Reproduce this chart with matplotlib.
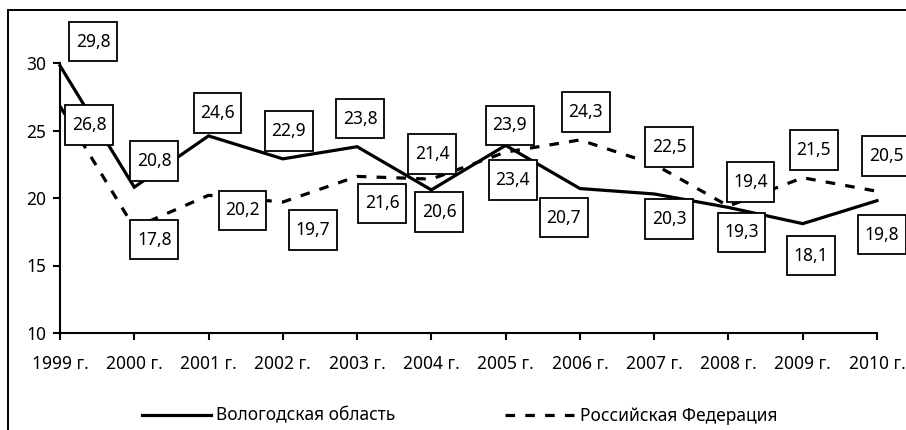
import numpy as np
from matplotlib import pyplot as plt
from matplotlib.patches import Rectangle
from matplotlib.path import Path

plt.rcParams['font.family'] = ['Noto Sans', 'DejaVu Sans']

years = ['1999 г.', '2000 г.', '2001 г.', '2002 г.', '2003 г.', '2004 г.',
         '2005 г.', '2006 г.', '2007 г.', '2008 г.', '2009 г.', '2010 г.']
vologda = [29.8, 20.8, 24.6, 22.9, 23.8, 20.6, 23.9, 20.7, 20.3, 19.3, 18.1, 19.8]
russia = [26.8, 17.8, 20.2, 19.7, 21.6, 21.4, 23.4, 24.3, 22.5, 19.4, 21.5, 20.5]

# label offsets in pixels (dx, dy), picked by eye
off_vol = [(33, 24), (20, 26), (9, 23), (6, 28), (3, 28), (8, -22),
           (4, 20), (-16, -29), (15, -25), (13, -25), (8, -32), (5, -34)]
off_rus = [(29, -19), (20, -12), (34, -15), (30, -28), (25, -27), (1, 25),
           (7, -28), (6, 28), (15, 17), (22, 24), (11, 28), (9, 35)]


def labelbox(x0, y0, width, height, mutation_size):
    # wide vertical padding, narrow horizontal one, like the source
    px = 0.38 * mutation_size
    py = 0.62 * mutation_size
    x0, y0 = x0 - px, y0 - py
    x1, y1 = x0 + width + 2 * px, y0 + height + 2 * py
    return Path([(x0, y0), (x1, y0), (x1, y1), (x0, y1), (x0, y0)], closed=True)


fig = plt.figure(figsize=(9.06, 4.30), dpi=100)
fig.patches.append(Rectangle((8 / 906, -0.1), 1.2, 1 - 10 / 430 + 0.1,
                             transform=fig.transFigure, fill=False,
                             edgecolor='black', linewidth=1.4))
ax = fig.add_axes([60 / 906, 1 - 333 / 430, (877 - 60) / 906, (333 - 63) / 430])

x = np.arange(len(years))
ax.plot(x, vologda, color='black', lw=2.3, clip_on=False,
        solid_joinstyle='miter', label='Вологодская область')
ax.plot(x, russia, color='black', lw=2.3, clip_on=False,
        dashes=(3, 3.2), label='Российская Федерация')

box = dict(boxstyle=labelbox, fc='white', ec='black', lw=1.3)
for xi, v, o in zip(x, vologda, off_vol):
    ax.annotate(f'{v:.1f}'.replace('.', ','), (xi, v), xytext=o,
                textcoords='offset pixels', ha='center', va='center',
                fontsize=12.5, bbox=box, annotation_clip=False)
for xi, v, o in zip(x, russia, off_rus):
    ax.annotate(f'{v:.1f}'.replace('.', ','), (xi, v), xytext=o,
                textcoords='offset pixels', ha='center', va='center',
                fontsize=12.5, bbox=box, annotation_clip=False)

ax.set_xlim(0, len(years) - 1)
ax.set_ylim(10, 30)
ax.set_yticks([10, 15, 20, 25, 30])
ax.set_xticks(x)
ax.set_xticklabels(years)
ax.spines['top'].set_visible(False)
ax.spines['right'].set_visible(False)
ax.spines['left'].set_linewidth(1.5)
ax.spines['bottom'].set_linewidth(1.5)
ax.tick_params(direction='out', length=5, width=1.5, labelsize=12.5)
ax.tick_params(axis='x', pad=11)
ax.tick_params(axis='y', pad=5)

ax.legend(loc='upper center', bbox_to_anchor=(0.489, -0.215), ncol=2, frameon=False,
          fontsize=12.5, handlelength=4.0, columnspacing=6.3, handletextpad=0.3)

fig.savefig('out.png', dpi=100)
